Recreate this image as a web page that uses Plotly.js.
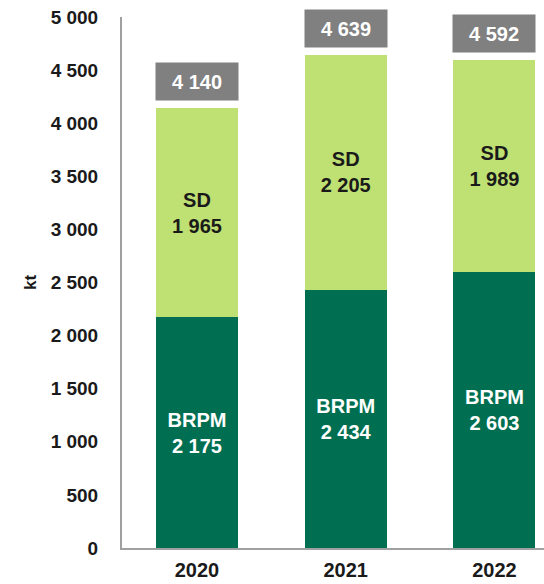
<!DOCTYPE html>
<html>
<head>
<meta charset="utf-8">
<script src="https://cdn.plot.ly/plotly-3.0.1.min.js"></script>
<style>
html,body{margin:0;padding:0;background:#fff;}
#chart{width:544px;height:584px;}
</style>
</head>
<body>
<div id="chart"></div>
<script>
const years = ["2020", "2021", "2022"];
const brpm = [2175, 2434, 2603];
const sd = [1965, 2205, 1989];
const totals = [4140, 4639, 4592];

const FONT = "Liberation Sans, Arial, sans-serif";
function fmt(v){ return String(v).replace(/\B(?=(\d{3})+(?!\d))/g, " "); }

const traces = [
  {
    type: "bar", name: "BRPM", x: years, y: brpm,
    marker: {color: "#006F51"},
    texttemplate: "BRPM<br>%{y:,}",
    textposition: "inside", insidetextanchor: "middle",
    textfont: {family: FONT, size: 20, color: "#ffffff", weight: 700},
    hoverinfo: "none"
  },
  {
    type: "bar", name: "SD", x: years, y: sd,
    marker: {color: "#BFE073"},
    texttemplate: "SD<br>%{y:,}",
    textposition: "inside", insidetextanchor: "middle",
    textfont: {family: FONT, size: 20, color: "#1a1a1a", weight: 700},
    hoverinfo: "none"
  }
];

const annotations = years.map((yr, i) => ({
  x: i, y: totals[i], xref: "x", yref: "y",
  text: fmt(totals[i]),
  showarrow: false,
  xanchor: "center", yanchor: "bottom", yshift: 7,
  bgcolor: "#808080",
  width: 82, height: 37, borderpad: 0,
  font: {family: FONT, size: 20, color: "#ffffff", weight: 700}
}));

const layout = {
  width: 544, height: 584,
  margin: {l: 122, r: 0, t: 17, b: 36},
  barmode: "stack",
  bargap: 0.449,
  separators: ". ",
  showlegend: false,
  plot_bgcolor: "#ffffff",
  paper_bgcolor: "#ffffff",
  font: {family: FONT, color: "#1a1a1a"},
  xaxis: {
    type: "category",
    range: [-0.504, 2.333],
    showline: true, linecolor: "#a0a0a0", linewidth: 2,
    showgrid: false, zeroline: false,
    ticks: "",
    ticklabelstandoff: 3,
    tickfont: {family: FONT, size: 20, color: "#1a1a1a", weight: 700}
  },
  yaxis: {
    range: [0, 5000],
    dtick: 500, tick0: 0,
    tickformat: ",d",
    showline: true, linecolor: "#a0a0a0", linewidth: 2,
    showgrid: false, zeroline: false,
    ticks: "",
    ticklabelstandoff: 18,
    tickfont: {family: FONT, size: 19, color: "#1a1a1a", weight: 700},
    title: {text: "kt", font: {family: FONT, size: 17, color: "#1a1a1a", weight: 700}, standoff: 10}
  },
  annotations: annotations
};

Plotly.newPlot("chart", traces, layout, {displayModeBar: false, staticPlot: true});
</script>
</body>
</html>
